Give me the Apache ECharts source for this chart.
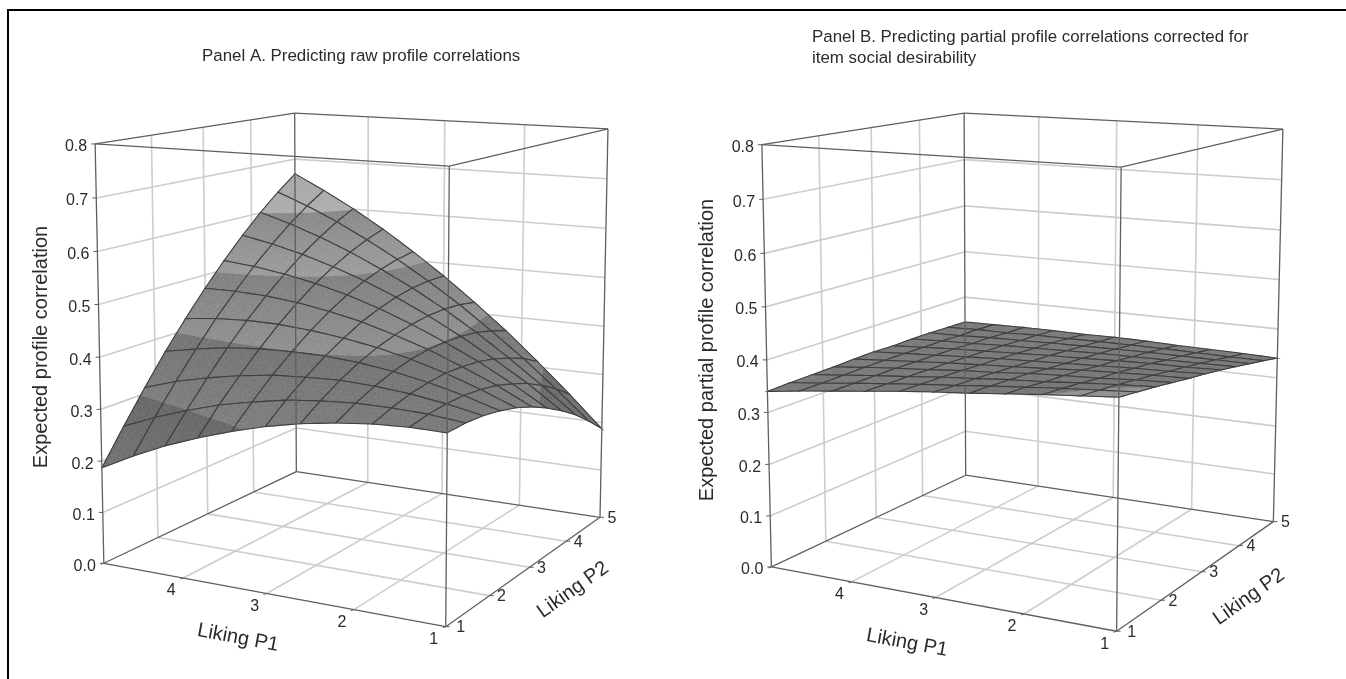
<!DOCTYPE html>
<html>
<head>
<meta charset="utf-8">
<style>html,body{margin:0;padding:0;background:#fff}#c{width:1346px;height:679px}</style>
<script src="https://cdn.jsdelivr.net/npm/echarts@6/dist/echarts.min.js"></script>
</head>
<body>
<div id="c"></div>
<script>
// ---------- data ----------
const titleA = "Panel A. Predicting raw profile correlations";
const titleB = "Panel B. Predicting partial profile correlations corrected for\nitem social desirability";
const zLabelA = "Expected profile correlation";
const zLabelB = "Expected partial profile correlation";
const p1Label = "Liking P1";
const p2Label = "Liking P2";
const p1Ticks = [1, 2, 3, 4, 5];
const p2Ticks = [1, 2, 3, 4, 5];
const p1TickLabels = ["1", "2", "3", "4", ""];
const p2TickLabels = ["1", "2", "3", "4", "5"];
const zTicks = [0, 0.1, 0.2, 0.3, 0.4, 0.5, 0.6, 0.7, 0.8];
const meshSteps = [1, 1.4, 1.8, 2.2, 2.6, 3, 3.4, 3.8, 4.2, 4.6, 5];
// rows: Liking P2 step, columns: Liking P1 step
const surfaceA = [
[.344,.345,.342,.335,.325,.311,.293,.272,.248,.219,.187],
[.345,.352,.355,.355,.351,.344,.332,.318,.299,.277,.251],
[.342,.355,.365,.371,.374,.372,.368,.359,.347,.332,.312],
[.335,.355,.371,.384,.393,.398,.399,.397,.392,.382,.370],
[.325,.351,.374,.393,.408,.419,.427,.432,.433,.430,.423],
[.311,.344,.372,.398,.419,.438,.452,.463,.470,.473,.473],
[.293,.332,.368,.399,.427,.452,.473,.490,.503,.513,.519],
[.272,.318,.359,.397,.432,.463,.490,.513,.533,.549,.562],
[.248,.299,.347,.392,.433,.470,.503,.533,.559,.582,.601],
[.219,.277,.332,.382,.430,.473,.513,.549,.582,.611,.636],
[.187,.251,.312,.370,.423,.473,.519,.562,.601,.636,.668]
];
const surfaceB = [
[.412,.406,.400,.393,.386,.380,.373,.365,.357,.349,.340],
[.406,.401,.396,.390,.384,.377,.371,.364,.357,.349,.342],
[.400,.396,.391,.385,.381,.375,.370,.363,.357,.350,.343],
[.393,.390,.385,.382,.378,.372,.368,.362,.357,.351,.344],
[.386,.384,.381,.378,.373,.369,.365,.361,.356,.351,.346],
[.380,.377,.375,.372,.369,.366,.363,.359,.355,.351,.347],
[.373,.371,.370,.368,.365,.363,.360,.357,.354,.350,.346],
[.365,.364,.363,.362,.361,.359,.357,.355,.352,.350,.347],
[.357,.357,.357,.357,.356,.355,.354,.352,.351,.348,.347],
[.349,.349,.350,.351,.351,.351,.350,.350,.348,.348,.346],
[.340,.342,.343,.344,.346,.347,.346,.347,.347,.346,.345]
];
// contour bands of the surface shading
const bandEdges = [.2, .3, .4, .5, .6, .7];
const bandGrayLow = [0x72, 0x7e, 0x90, 0x9c, 0xae];
const bandGrayHigh = [0x68, 0x74, 0x80, 0x88, 0xa2];

// ---------- camera calibration: box corners on the page ----------
// order: front (P1=1,P2=1), left (P1=5,P2=1), right (P1=1,P2=5), back (P1=5,P2=5); floor, then top
const cameraA = { floor: [[446,627],[104,563],[600,517],[296,472]], top: [[449,166],[95,144],[608,129],[295,113]] };
const cameraB = { floor: [[1117,631],[771,567],[1273,522],[966,475]], top: [[1121,167],[762,145],[1283,129],[964,113]] };

function solveCamera(cam) {
  const uv = [[0,0],[1,0],[0,1],[1,1]], A = [], b = [];
  [[cam.floor,0],[cam.top,1]].forEach(([pts,w]) => pts.forEach((p,k) => {
    const [u,v] = uv[k], X = p[0]/1000, Y = p[1]/1000;
    A.push([u,v,w,1,0,0,0,0,-X*u,-X*v,-X*w]); b.push(X);
    A.push([0,0,0,0,u,v,w,1,-Y*u,-Y*v,-Y*w]); b.push(Y);
  }));
  const n = 11, M = [];
  for (let r=0;r<n;r++){ M[r]=[]; for(let c=0;c<=n;c++){ let s=0; for(let e=0;e<A.length;e++) s+=A[e][r]*(c<n?A[e][c]:b[e]); M[r][c]=s; } }
  for (let c=0;c<n;c++){
    let piv=c; for(let r=c+1;r<n;r++) if(Math.abs(M[r][c])>Math.abs(M[piv][c])) piv=r;
    [M[c],M[piv]]=[M[piv],M[c]];
    for(let r=0;r<n;r++) if(r!==c){ const f=M[r][c]/M[c][c]; for(let k=c;k<=n;k++) M[r][k]-=f*M[c][k]; }
  }
  const h = M.map((row,r)=>row[n]/row[r]);
  return (p1,p2,z) => {
    const u=(p1-1)/4, v=(p2-1)/4, w=z/0.8;
    const d=h[8]*u+h[9]*v+h[10]*w+1;
    return [1000*(h[0]*u+h[1]*v+h[2]*w+h[3])/d, 1000*(h[4]*u+h[5]*v+h[6]*w+h[7])/d];
  };
}

function grayFor(z) {
  let k = 0;
  while (k < bandGrayLow.length-1 && z >= bandEdges[k+1]) k++;
  const t = Math.max(0, Math.min(1, (z-bandEdges[k])/(bandEdges[k+1]-bandEdges[k])));
  const g = Math.round(bandGrayLow[k]+(bandGrayHigh[k]-bandGrayLow[k])*t);
  return 'rgb('+g+','+g+','+(g+2)+')';
}

// keep the part of a triangle/polygon (vertices {s,t,z}) with sign*(z-limit) >= 0
function clipZ(poly, limit, sign) {
  const out=[];
  for(let i=0;i<poly.length;i++){
    const a=poly[i], b=poly[(i+1)%poly.length];
    const da=sign*(a.z-limit), db=sign*(b.z-limit);
    if(da>=0) out.push(a);
    if((da>=0)!==(db>=0)){
      const f=da/(da-db);
      out.push({s:a.s+(b.s-a.s)*f,t:a.t+(b.t-a.t)*f,z:a.z+(b.z-a.z)*f});
    }
  }
  return out;
}

const FONT = '"Liberation Sans", Arial, sans-serif';
const TEXT = '#2b2b2b';
const GRID = '#cdcdcd';
const EDGE = '#5f5f63';

function panelSeries(cam, surface, text) {
  const proj = solveCamera(cam);
  const p1Max = p1Ticks[p1Ticks.length-1], p1Min = p1Ticks[0];
  const p2Max = p2Ticks[p2Ticks.length-1], p2Min = p2Ticks[0];
  const zMax = zTicks[zTicks.length-1];

  // line segments in data units
  const inner = a => a.slice(1, -1);
  const gridLines = [];
  inner(p1Ticks).forEach(p => {
    gridLines.push([p,p2Min,0,p,p2Max,0]);       // floor
    gridLines.push([p,p2Max,0,p,p2Max,zMax]);    // back wall
  });
  inner(p2Ticks).forEach(p => {
    gridLines.push([p1Min,p,0,p1Max,p,0]);
    gridLines.push([p1Max,p,0,p1Max,p,zMax]);
  });
  inner(zTicks).forEach(z => {
    gridLines.push([p1Max,p2Min,z,p1Max,p2Max,z]);
    gridLines.push([p1Min,p2Max,z,p1Max,p2Max,z]);
  });
  const edgeLines = [];
  [0,zMax].forEach(z => {
    edgeLines.push([p1Min,p2Min,z,p1Max,p2Min,z],[p1Max,p2Min,z,p1Max,p2Max,z],
                   [p1Max,p2Max,z,p1Min,p2Max,z],[p1Min,p2Max,z,p1Min,p2Min,z]);
  });
  [[p1Min,p2Min],[p1Max,p2Min],[p1Min,p2Max],[p1Max,p2Max]].forEach(c => edgeLines.push([c[0],c[1],0,c[0],c[1],zMax]));

  const lineItem = (color,width) => (params, api) => {
    const a = proj(api.value(0),api.value(1),api.value(2)), b = proj(api.value(3),api.value(4),api.value(5));
    return {type:'line', shape:{x1:a[0],y1:a[1],x2:b[0],y2:b[1]}, style:{stroke:color,lineWidth:width}};
  };

  // surface cells, back to front
  const cells = [];
  for (let i=0;i<meshSteps.length-1;i++) for (let j=0;j<meshSteps.length-1;j++)
    cells.push([meshSteps[i],meshSteps[i+1],meshSteps[j],meshSteps[j+1],surface[j][i],surface[j][i+1],surface[j+1][i],surface[j+1][i+1]]);
  cells.sort((a,b)=>(b[0]+b[2])-(a[0]+a[2]));
  const N = 4;

  const cellItem = (params, api) => {
    const a0=api.value(0),a1=api.value(1),b0=api.value(2),b1=api.value(3);
    const z00=api.value(4),z10=api.value(5),z01=api.value(6),z11=api.value(7);
    const vert=(s,t)=>({s,t,z:z00*(1-s)*(1-t)+z10*s*(1-t)+z01*(1-s)*t+z11*s*t});
    const pt=o=>proj(a0+(a1-a0)*o.s,b0+(b1-b0)*o.t,o.z);
    const children=[];
    const addTri=tri=>{
      for(let k=0;k<bandEdges.length-1;k++){
        let poly=tri;
        if(k>0) poly=clipZ(poly,bandEdges[k],1);
        if(k<bandEdges.length-2 && poly.length) poly=clipZ(poly,bandEdges[k+1],-1);
        if(poly.length<3) continue;
        const zm=poly.reduce((acc,o)=>acc+o.z,0)/poly.length, col=grayFor(zm);
        children.push({type:'polygon',shape:{points:poly.map(pt)},style:{fill:col,stroke:col,lineWidth:0.5}});
      }
    };
    for(let s=0;s<N;s++) for(let t=0;t<N;t++){
      const q=[vert(s/N,t/N),vert((s+1)/N,t/N),vert((s+1)/N,(t+1)/N),vert(s/N,(t+1)/N)];
      addTri([q[0],q[1],q[2]]); addTri([q[0],q[2],q[3]]);
    }
    const outline=[];
    for(let k=0;k<=N;k++) outline.push(pt(vert(k/N,0)));
    for(let k=1;k<=N;k++) outline.push(pt(vert(1,k/N)));
    for(let k=N-1;k>=0;k--) outline.push(pt(vert(k/N,1)));
    for(let k=N-1;k>=0;k--) outline.push(pt(vert(0,k/N)));
    children.push({type:'polyline',shape:{points:outline},style:{fill:null,stroke:'#3f3f42',lineWidth:1.1}});
    return {type:'group',children};
  };

  // tick marks and labels
  const txt=(x,y,s,size,rot,align)=>({type:'text',x,y,rotation:rot||0,
    style:{text:s,font:size+'px '+FONT,fill:TEXT,align:align||'center',verticalAlign:'middle'}});
  const labelItems=[];
  zTicks.forEach(z=>labelItems.push(['z',z]));
  p1Ticks.forEach((p,i)=>labelItems.push(['p1',p,p1TickLabels[i]]));
  p2Ticks.forEach((p,i)=>labelItems.push(['p2',p,p2TickLabels[i]]));
  const labelItem=(params,api)=>{
    const d=labelItems[params.dataIndex], tick=(p,dx,dy)=>({type:'line',shape:{x1:p[0],y1:p[1],x2:p[0]+dx,y2:p[1]+dy},style:{stroke:EDGE,lineWidth:1}});
    if(d[0]==='z'){
      const p=proj(p1Max,p2Min,d[1]);
      return {type:'group',children:[tick(p,-4,0),txt(p[0]-8,p[1]+3,d[1].toFixed(1),16,0,'right')]};
    }
    if(d[0]==='p1'){
      const p=proj(d[1],p2Min,0);
      return {type:'group',children:[tick(p,-3,1),txt(p[0]-12,p[1]+13,d[2],16)]};
    }
    const p=proj(p1Min,d[1],0);
    return {type:'group',children:[tick(p,4,0),txt(p[0]+(d[1]===p2Min?15:12),p[1]+1,d[2],16)]};
  };
  const textItem=(params,api)=>{
    const t=text[params.dataIndex];
    return txt(t[0],t[1],t[2],20,t[3]);
  };

  const base={type:'custom',coordinateSystem:'none',silent:true,animation:false};
  return [
    Object.assign({},base,{name:'grid',data:gridLines,renderItem:lineItem(GRID,1.6)}),
    Object.assign({},base,{name:'surface',data:cells,renderItem:cellItem}),
    Object.assign({},base,{name:'box',data:edgeLines,renderItem:lineItem(EDGE,1.3)}),
    Object.assign({},base,{name:'ticks',data:labelItems.map((d,i)=>[i]),renderItem:labelItem}),
    Object.assign({},base,{name:'titles',data:text.map((d,i)=>[i]),renderItem:textItem})
  ];
}

const textA=[[41,347,zLabelA,Math.PI/2],[238,638,p1Label,-0.185],[573,590,p2Label,0.62]];
const textB=[[707,350,zLabelB,Math.PI/2],[907,643,p1Label,-0.185],[1249,597,p2Label,0.62]];

const chart=echarts.init(document.getElementById('c'),null,{renderer:'canvas'});
chart.setOption({
  animation:false,
  backgroundColor:'#fff',
  tooltip:{show:false},
  title:[
    {text:titleA,left:197,top:41,textStyle:{fontFamily:FONT,fontSize:16.9,fontWeight:'normal',color:TEXT,lineHeight:21}},
    {text:titleB,left:807,top:21.5,textStyle:{fontFamily:FONT,fontSize:16.9,fontWeight:'normal',color:TEXT,lineHeight:21}}
  ],
  graphic:[
    {type:'line',silent:true,shape:{x1:7,y1:10,x2:1346,y2:10},style:{stroke:'#000',lineWidth:2}},
    {type:'line',silent:true,shape:{x1:8,y1:9,x2:8,y2:679},style:{stroke:'#000',lineWidth:2}}
  ],
  series:[].concat(panelSeries(cameraA,surfaceA,textA),panelSeries(cameraB,surfaceB,textB))
});
</script>
</body>
</html>
